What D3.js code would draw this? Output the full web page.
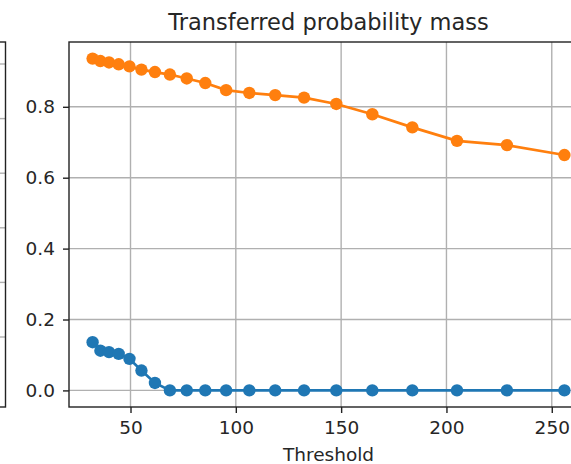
<!DOCTYPE html>
<html>
<head>
<meta charset="utf-8">
<script src="https://cdn.jsdelivr.net/npm/d3@7"></script>
<style>
  html, body { margin: 0; padding: 0; background: #fff; }
  svg { display: block; font-family: "DejaVu Sans", sans-serif; }
</style>
</head>
<body>
<div id="chart"></div>
<script>
// thresholds (x)
const thresholds = [32, 35.7, 39.8, 44.4, 49.5, 55.2, 61.6, 68.7, 76.7, 85.5,
                    95.4, 106.4, 118.7, 132.4, 147.7, 164.8, 183.8, 205, 228.7, 256];
// orange series
const massOrange = [0.936, 0.929, 0.925, 0.920, 0.914, 0.905, 0.898, 0.891, 0.880, 0.867,
                    0.847, 0.839, 0.833, 0.826, 0.808, 0.779, 0.742, 0.704, 0.692, 0.664];
// blue series
const massBlue = [0.136, 0.112, 0.108, 0.103, 0.089, 0.056, 0.021, 0, 0, 0,
                  0, 0, 0, 0, 0, 0, 0, 0, 0, 0];
const xTicks = [50, 100, 150, 200, 250];
const yTicks = [0.0, 0.2, 0.4, 0.6, 0.8];
// grid of the neighbouring (cut off) panel on the left
const leftPanelTicks = [0, 1, 2, 3, 4, 5];

const W = 571, H = 464;
const mLeft = 69, mTop = 42, mRight = 588, mBottom = 407;

const svg = d3.select("#chart").append("svg")
    .attr("width", W)
    .attr("height", H);

// matplotlib style 5% margins
const xExt = d3.extent(thresholds);
const xPad = (xExt[1] - xExt[0]) * 0.05;
const allY = massOrange.concat(massBlue);
const yExt = d3.extent(allY);
const yPad = (yExt[1] - yExt[0]) * 0.05;

const x = d3.scaleLinear()
    .domain([xExt[0] - xPad, xExt[1] + xPad])
    .range([mLeft, mRight]);

const y = d3.scaleLinear()
    .domain([yExt[0] - yPad, yExt[1] + yPad])
    .range([mBottom, mTop]);

// neighbouring panel, only its right edge is visible
const yLeft = d3.scaleLinear().domain([0, 5]).range([337, 64]);
svg.append("g")
    .selectAll("line")
    .data(leftPanelTicks)
    .join("line")
    .attr("x1", -10).attr("x2", 5.5)
    .attr("y1", d => yLeft(d)).attr("y2", d => yLeft(d))
    .attr("stroke", "#b0b0b0")
    .attr("stroke-width", 1.4);
svg.append("rect")
    .attr("x", -20).attr("y", mTop)
    .attr("width", 25.5).attr("height", mBottom - mTop)
    .attr("fill", "none")
    .attr("stroke", "#222")
    .attr("stroke-width", 1.4);

// grid
const grid = svg.append("g");
grid.selectAll(".gx")
    .data(xTicks)
    .join("line")
    .attr("x1", d => x(d)).attr("x2", d => x(d))
    .attr("y1", mTop).attr("y2", mBottom)
    .attr("stroke", "#b0b0b0")
    .attr("stroke-width", 1.4);
grid.selectAll(".gy")
    .data(yTicks)
    .join("line")
    .attr("x1", mLeft).attr("x2", mRight)
    .attr("y1", d => y(d)).attr("y2", d => y(d))
    .attr("stroke", "#b0b0b0")
    .attr("stroke-width", 1.4);

// axes
const xAxis = d3.axisBottom(x)
    .tickValues(xTicks)
    .tickFormat(d3.format("d"))
    .tickSize(6)
    .tickPadding(8);
const yAxis = d3.axisLeft(y)
    .tickValues(yTicks)
    .tickFormat(d3.format(".1f"))
    .tickSize(6)
    .tickPadding(8);

const gx = svg.append("g")
    .attr("transform", `translate(0,${mBottom})`)
    .call(xAxis);
const gy = svg.append("g")
    .attr("transform", `translate(${mLeft},0)`)
    .call(yAxis);

[gx, gy].forEach(g => {
    g.select(".domain").remove();
    g.selectAll(".tick line").attr("stroke", "#222").attr("stroke-width", 1.4);
    g.selectAll(".tick text")
        .attr("fill", "#262626")
        .style("font-size", "18.5px")
        .style("font-family", "DejaVu Sans");
});

// series
const line = d3.line()
    .x(d => x(d[0]))
    .y(d => y(d[1]));

const series = [
    { values: massBlue, color: "#1f77b4" },
    { values: massOrange, color: "#ff7f0e" }
];

series.forEach(s => {
    const pts = thresholds.map((t, i) => [t, s.values[i]]);
    svg.append("path")
        .datum(pts)
        .attr("fill", "none")
        .attr("stroke", s.color)
        .attr("stroke-width", 2.7)
        .attr("d", line);
    svg.append("g")
        .selectAll("circle")
        .data(pts)
        .join("circle")
        .attr("cx", d => x(d[0]))
        .attr("cy", d => y(d[1]))
        .attr("r", 6.2)
        .attr("fill", s.color);
});

// frame
svg.append("rect")
    .attr("x", mLeft).attr("y", mTop)
    .attr("width", mRight - mLeft).attr("height", mBottom - mTop)
    .attr("fill", "none")
    .attr("stroke", "#222")
    .attr("stroke-width", 1.4);

// title and label
svg.append("text")
    .attr("x", (mLeft + mRight) / 2)
    .attr("y", 30)
    .attr("text-anchor", "middle")
    .attr("fill", "#262626")
    .style("font-size", "22.5px")
    .text("Transferred probability mass");

svg.append("text")
    .attr("x", (mLeft + mRight) / 2)
    .attr("y", 461)
    .attr("text-anchor", "middle")
    .attr("fill", "#262626")
    .style("font-size", "18.5px")
    .text("Threshold");
</script>
</body>
</html>
